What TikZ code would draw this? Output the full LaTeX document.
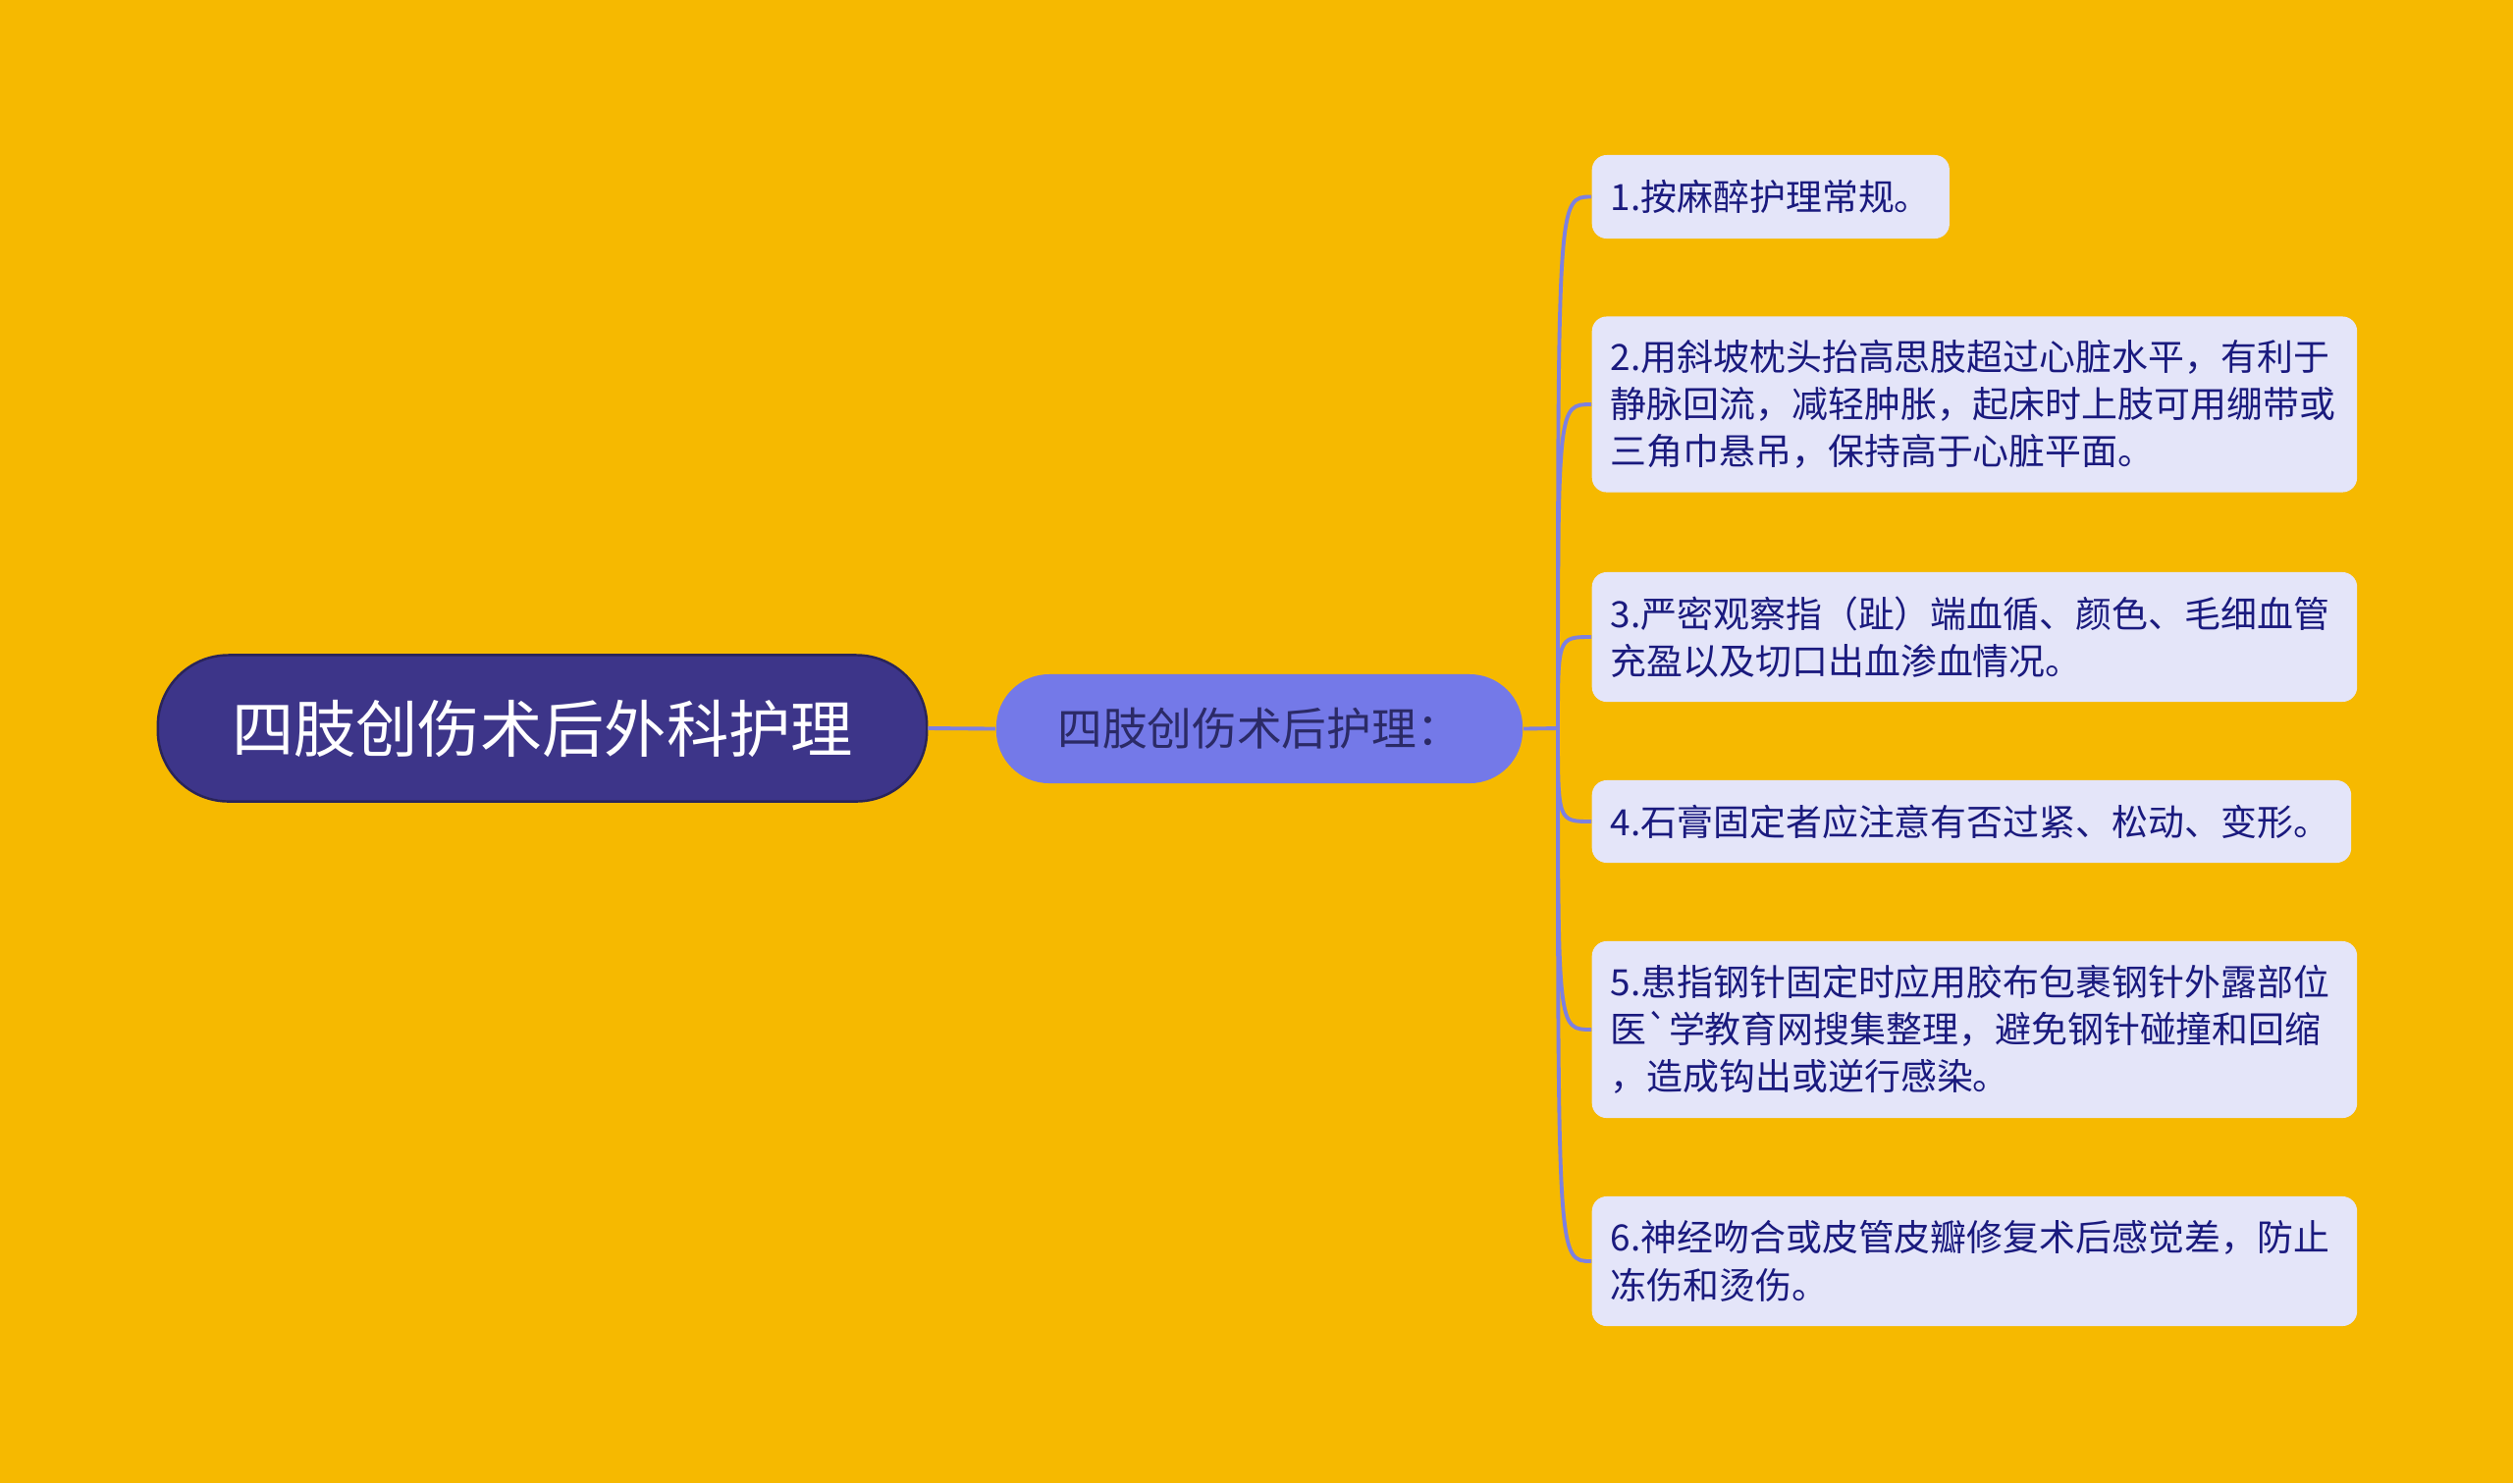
\documentclass[tikz,border=0pt]{standalone}
\usepackage{fontspec}
\setmainfont{Noto Sans CJK SC}
\newfontfamily\rawf[Ligatures=TeXOff]{Noto Sans CJK SC}
\definecolor{bgc}{HTML}{F6B900}
\definecolor{rootc}{HTML}{3D3589}
\definecolor{rootb}{HTML}{2A2458}
\definecolor{midc}{HTML}{7479E8}
\definecolor{midt}{HTML}{2B2A66}
\definecolor{leafc}{HTML}{E4E5F9}
\definecolor{leaft}{HTML}{1A1A7E}
\definecolor{linec}{HTML}{7D80E0}
\tikzset{
  rootbox/.style={fill=rootc, draw=rootb, line width=0.7pt, rounded corners=0.72cm,
    minimum width=7.83cm, minimum height=1.49cm, text=white, inner sep=0pt,
    font=\fontsize{18}{22}\selectfont},
  midbox/.style={fill=midc, rounded corners=0.54cm, minimum width=5.36cm,
    minimum height=1.11cm, text=midt, inner sep=0pt, font=\fontsize{13}{16}\selectfont},
  leafbox/.style={fill=leafc, rounded corners=0.15cm, anchor=west, text=leaft,
    align=left, inner xsep=0.19cm, inner ysep=0pt,
    font=\fontsize{10.5}{13.7}\selectfont},
  conn/.style={draw=linec, line width=1.1pt}
}
\begin{document}
\begin{tikzpicture}[x=0.01cm,y=-0.01cm]
\fill[bgc] (0,0) rectangle (2560,1511);
\useasboundingbox (0,0) rectangle (2560,1511);

\node[rootbox] (root) at (552.5,742) {四肢创伤术后外科护理};
\node[midbox] (mid) at (1283,742.5) {四肢创伤术后护理：};
\coordinate (hub) at (1587,742);

\node[leafbox, minimum width=3.64cm, text width=3.26cm, minimum height=0.85cm] (l1) at (1621,200.5) {1.按麻醉护理常规。};
\node[leafbox, minimum width=7.79cm, text width=7.41cm, minimum height=1.79cm] (l2) at (1621,412) {2.用斜坡枕头抬高思肢超过心脏水平，有利于\\静脉回流，减轻肿胀，起床时上肢可用绷带或\\三角巾悬吊，保持高于心脏平面。};
\node[leafbox, minimum width=7.79cm, text width=7.41cm, minimum height=1.32cm] (l3) at (1621,649) {3.严密观察指（趾）端血循、颜色、毛细血管\\充盈以及切口出血渗血情况。};
\node[leafbox, minimum width=7.73cm, text width=7.35cm, minimum height=0.84cm] (l4) at (1621,837) {4.石膏固定者应注意有否过紧、松动、变形。};
\node[leafbox, minimum width=7.79cm, text width=7.41cm, minimum height=1.80cm] (l5) at (1621,1049) {5.患指钢针固定时应用胶布包裹钢针外露部位\\医{\rawf `}学教育网搜集整理，避免钢针碰撞和回缩\\，造成钩出或逆行感染。};
\node[leafbox, minimum width=7.79cm, text width=7.41cm, minimum height=1.32cm] (l6) at (1621,1285) {6.神经吻合或皮管皮瓣修复术后感觉差，防止\\冻伤和烫伤。};

\draw[conn] (root.east) -- (mid.west);
\draw[conn] (mid.east) -- (hub);
\foreach \n in {l1,l2,l3,l4,l5,l6}{
  \draw[conn] (hub) .. controls (hub |- \n.west) and (hub |- \n.west) .. (\n.west);
}
\end{tikzpicture}
\end{document}
